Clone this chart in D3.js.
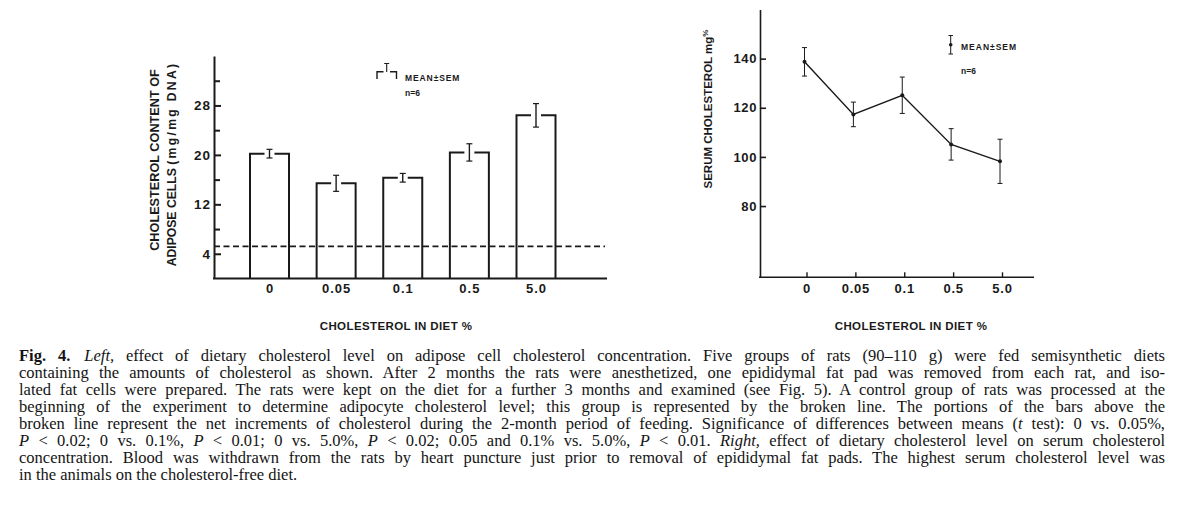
<!DOCTYPE html>
<html><head><meta charset="utf-8">
<script src="https://cdn.jsdelivr.net/npm/d3@7"></script>
<style>
body{margin:0;background:#fff;}
#wrap{position:relative;width:1200px;height:517px;overflow:hidden;background:#fff;}
svg{position:absolute;left:0;top:0;}
.cap{position:absolute;left:19px;width:1146px;top:347px;font-family:"Liberation Serif","Times New Roman",serif;font-size:16.5px;line-height:17px;color:#141414;}
.cap div{white-space:nowrap;}
.lbl{font-family:"Liberation Sans",Arial,sans-serif;font-weight:bold;fill:#1a1a1a;}
</style>
</head><body>
<div id="wrap"><svg id="chart" width="1200" height="517"></svg><div class="cap" id="cap"></div></div>
<script>
// ---- data ----
const dietLevels = ["0", "0.05", "0.1", "0.5", "5.0"];
const adiposeMean = [20.2, 15.4, 16.3, 20.4, 26.4];
const adiposeSem = [0.7, 1.3, 0.7, 1.4, 1.9];
const controlLevel = 5.2;
const adiposeTicks = [4, 12, 20, 28];
const adiposeMinorTicks = [8, 16, 24, 32];
const serumMean = [138.7, 117.3, 125.1, 105.1, 98.2];
const serumSem = [5.8, 5.0, 7.4, 6.4, 9.0];
const serumTicks = [80, 100, 120, 140];
const captionLines = [
  "<b>Fig. 4.</b><span style=\"display:inline-block;width:14px\"></span><i>Left,</i> effect of dietary cholesterol level on adipose cell cholesterol concentration. Five groups of rats (90–110 g) were fed semisynthetic diets",
  "containing the amounts of cholesterol as shown. After 2 months the rats were anesthetized, one epididymal fat pad was removed from each rat, and iso-",
  "lated fat cells were prepared. The rats were kept on the diet for a further 3 months and examined (see Fig. 5). A control group of rats was processed at the",
  "beginning of the experiment to determine adipocyte cholesterol level; this group is represented by the broken line. The portions of the bars above the",
  "broken line represent the net increments of cholesterol during the 2-month period of feeding. Significance of differences between means (<i>t</i> test): 0 vs. 0.05%,",
  "<i>P</i> &lt; 0.02; 0 vs. 0.1%, <i>P</i> &lt; 0.01; 0 vs. 5.0%, <i>P</i> &lt; 0.02; 0.05 and 0.1% vs. 5.0%, <i>P</i> &lt; 0.01. <i>Right,</i> effect of dietary cholesterol level on serum cholesterol",
  "concentration. Blood was withdrawn from the rats by heart puncture just prior to removal of epididymal fat pads. The highest serum cholesterol level was",
  "in the animals on the cholesterol-free diet."
];

const svg = d3.select("#chart");
const ink = "#1a1a1a";

// ================= LEFT CHART =================
const L = {axisX: 214, base: 278.5, top: 56, right: 607};
const yL = d3.scaleLinear().domain([0, 36]).range([L.base, L.top]);
const xL = d3.scalePoint().domain(dietLevels).range([269.5, 536]);
const barW = 39;
const gL = svg.append("g");

// y axis
const yAxL = gL.append("g").attr("transform", `translate(${L.axisX},0)`)
  .call(d3.axisLeft(yL).tickValues(adiposeTicks).tickSizeInner(-7).tickSizeOuter(0).tickPadding(3).tickFormat(d3.format("d")));
yAxL.select(".domain").attr("stroke", ink).attr("stroke-width", 2);
yAxL.selectAll(".tick line").attr("stroke", ink).attr("stroke-width", 2);
yAxL.selectAll(".tick text").attr("class", "lbl").style("font-size", "13.5px").style("letter-spacing", "1px").attr("fill", ink);
const yAxL2 = gL.append("g").attr("transform", `translate(${L.axisX},0)`)
  .call(d3.axisLeft(yL).tickValues(adiposeMinorTicks).tickSizeInner(-6).tickSizeOuter(0).tickFormat(""));
yAxL2.select(".domain").remove();
yAxL2.selectAll(".tick line").attr("stroke", ink).attr("stroke-width", 2);

// baseline
gL.append("line").attr("x1", L.axisX - 1).attr("x2", L.right).attr("y1", L.base).attr("y2", L.base)
  .attr("stroke", ink).attr("stroke-width", 2);

// x labels
const xAxL = gL.append("g").attr("transform", `translate(0,${L.base})`)
  .call(d3.axisBottom(xL).tickSize(0).tickPadding(5.5));
xAxL.select(".domain").remove();
xAxL.selectAll(".tick text").attr("class", "lbl").style("font-size", "13px").style("letter-spacing", "1px").attr("fill", ink);

// control dashed line
gL.append("line").attr("x1", L.axisX).attr("x2", 605).attr("y1", yL(controlLevel)).attr("y2", yL(controlLevel))
  .attr("stroke", ink).attr("stroke-width", 1.6).attr("stroke-dasharray", "6,3.5");

// bars (open, top broken around error bar)
const gap = 5;
gL.selectAll("path.bar").data(dietLevels).enter().append("path")
  .attr("fill", "none").attr("stroke", ink).attr("stroke-width", 2)
  .attr("d", (d, i) => {
    const cx = xL(d), x0 = cx - barW / 2, x1 = cx + barW / 2, t = yL(adiposeMean[i]);
    return `M${x0},${L.base}V${t}H${cx - gap}M${cx + gap},${t}H${x1}V${L.base}`;
  });
// error bars
const ebL = gL.selectAll("g.eb").data(dietLevels).enter().append("g");
ebL.append("line").attr("x1", d => xL(d)).attr("x2", d => xL(d))
  .attr("y1", (d, i) => yL(adiposeMean[i] + adiposeSem[i])).attr("y2", (d, i) => yL(adiposeMean[i] - adiposeSem[i]))
  .attr("stroke", ink).attr("stroke-width", 1.4);
[1, -1].forEach(s => {
  ebL.append("line").attr("x1", d => xL(d) - 3).attr("x2", d => xL(d) + 3)
    .attr("y1", (d, i) => yL(adiposeMean[i] + s * adiposeSem[i])).attr("y2", (d, i) => yL(adiposeMean[i] + s * adiposeSem[i]))
    .attr("stroke", ink).attr("stroke-width", 1.2);
});

// left legend
const lg = gL.append("g");
lg.append("path").attr("fill", "none").attr("stroke", ink).attr("stroke-width", 1.4)
  .attr("d", "M377,79V71.7H383.5M390,71.7H396.5V79");
lg.append("path").attr("fill", "none").attr("stroke", ink).attr("stroke-width", 1.1)
  .attr("d", "M386.7,63.5V72M384.2,63.5H389.2");
lg.append("text").attr("class", "lbl").attr("x", 405).attr("y", 81).style("font-size", "8.5px").style("letter-spacing", "0.9px").text("MEAN±SEM");
lg.append("text").attr("class", "lbl").attr("x", 405).attr("y", 96).style("font-size", "8.5px").text("n=6");

// left titles
gL.append("text").attr("class", "lbl").attr("x", 396).attr("y", 330).attr("text-anchor", "middle")
  .style("font-size", "11.5px").style("letter-spacing", "0.4px").text("CHOLESTEROL IN DIET %");
gL.append("text").attr("class", "lbl").attr("transform", "translate(159,160) rotate(-90)").attr("text-anchor", "middle")
  .style("font-size", "12.7px").text("CHOLESTEROL CONTENT OF");
const t2 = gL.append("text").attr("class", "lbl").attr("transform", "translate(176,164) rotate(-90)").attr("text-anchor", "middle")
  .style("font-size", "12.2px");
t2.append("tspan").text("ADIPOSE CELLS ");
t2.append("tspan").style("letter-spacing", "2.3px").text("(mg/mg DNA)");

// ================= RIGHT CHART =================
const R = {axisX: 760, base: 277.3, right: 1034};
const yR = d3.scaleLinear().domain([51, 160]).range([R.base, 9.5]);
const xR = d3.scalePoint().domain(dietLevels).range([806.5, 1002]);
const gR = svg.append("g");

const yAxR = gR.append("g").attr("transform", `translate(${R.axisX},0)`)
  .call(d3.axisLeft(yR).tickValues(serumTicks).tickSizeInner(-6).tickSizeOuter(0).tickPadding(3));
yAxR.select(".domain").attr("stroke", ink).attr("stroke-width", 1.6);
yAxR.selectAll(".tick line").attr("stroke", ink).attr("stroke-width", 1.6);
yAxR.selectAll(".tick text").attr("class", "lbl").style("font-size", "13px").style("letter-spacing", "0.6px").attr("fill", ink);

gR.append("line").attr("x1", R.axisX - 1).attr("x2", R.right).attr("y1", R.base).attr("y2", R.base)
  .attr("stroke", ink).attr("stroke-width", 1.6);
const xAxR = gR.append("g").attr("transform", `translate(0,${R.base})`)
  .call(d3.axisBottom(xR).tickSizeInner(-5).tickSizeOuter(0).tickPadding(6));
xAxR.select(".domain").remove();
xAxR.selectAll(".tick line").attr("stroke", ink).attr("stroke-width", 1.4);
xAxR.selectAll(".tick text").attr("class", "lbl").style("font-size", "13px").style("letter-spacing", "0.8px").attr("fill", ink);

// line
gR.append("path").datum(dietLevels).attr("fill", "none").attr("stroke", ink).attr("stroke-width", 1.4)
  .attr("d", d3.line().x(d => xR(d) - 2).y((d, i) => yR(serumMean[i])));
const ebR = gR.selectAll("g.ebr").data(dietLevels).enter().append("g");
ebR.append("line").attr("x1", d => xR(d) - 2).attr("x2", d => xR(d) - 2)
  .attr("y1", (d, i) => yR(serumMean[i] + serumSem[i])).attr("y2", (d, i) => yR(serumMean[i] - serumSem[i]))
  .attr("stroke", ink).attr("stroke-width", 1);
[1, -1].forEach(s => {
  ebR.append("line").attr("x1", d => xR(d) - 4.5).attr("x2", d => xR(d) + 0.5)
    .attr("y1", (d, i) => yR(serumMean[i] + s * serumSem[i])).attr("y2", (d, i) => yR(serumMean[i] + s * serumSem[i]))
    .attr("stroke", ink).attr("stroke-width", 1);
});
ebR.append("circle").attr("cx", d => xR(d) - 2).attr("cy", (d, i) => yR(serumMean[i])).attr("r", 2).attr("fill", ink);

// right legend
const rg = gR.append("g");
rg.append("path").attr("fill", "none").attr("stroke", ink).attr("stroke-width", 1)
  .attr("d", "M950.7,35.5V54M948.5,35.5H953M948.5,54H953");
rg.append("circle").attr("cx", 950.7).attr("cy", 44.7).attr("r", 1.8).attr("fill", ink);
rg.append("text").attr("class", "lbl").attr("x", 961).attr("y", 49.5).style("font-size", "8.5px").style("letter-spacing", "1px").text("MEAN±SEM");
rg.append("text").attr("class", "lbl").attr("x", 961).attr("y", 74).style("font-size", "8.5px").text("n=6");

// right titles
gR.append("text").attr("class", "lbl").attr("x", 911).attr("y", 330).attr("text-anchor", "middle")
  .style("font-size", "11.5px").style("letter-spacing", "0.4px").text("CHOLESTEROL IN DIET %");
const t3 = gR.append("text").attr("class", "lbl").attr("transform", "translate(712,109) rotate(-90)").attr("text-anchor", "middle")
  .style("font-size", "11.5px");
t3.append("tspan").text("SERUM CHOLESTEROL ");
t3.append("tspan").text("mg");
t3.append("tspan").attr("dy", "-4").style("font-size", "8px").text("%");

// ================= CAPTION (justified by word-spacing) =================
const cap = d3.select("#cap");
const capWidth = 1146;
captionLines.forEach((l, i) => {
  const div = cap.append("div");
  const span = div.append("span").html(l);
  if (i < captionLines.length - 1) {
    const w = span.node().getBoundingClientRect().width;
    const spaces = (span.node().textContent.match(/[ \u00a0]/g) || []).length;
    if (spaces > 0) span.style("word-spacing", ((capWidth - w) / spaces) + "px");
  }
});
</script>
</body></html>
